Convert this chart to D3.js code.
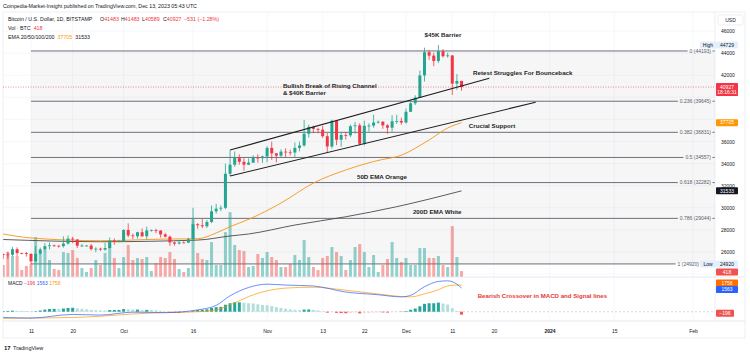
<!DOCTYPE html>
<html>
<head>
<meta charset="utf-8">
<script src="https://cdn.jsdelivr.net/npm/d3@7"></script>
<style>
  body { margin: 0; background: #fff; }
  svg { display: block; font-family: "Liberation Sans", Arial, sans-serif; }
</style>
</head>
<body>
<div id="chart"></div>
<script>
// ---- daily candles, BITSTAMP BTC/USD ----
const dates = [
  "2023-09-05","2023-09-06","2023-09-07","2023-09-08","2023-09-09","2023-09-10","2023-09-11","2023-09-12","2023-09-13","2023-09-14",
  "2023-09-15","2023-09-16","2023-09-17","2023-09-18","2023-09-19","2023-09-20","2023-09-21","2023-09-22","2023-09-23","2023-09-24",
  "2023-09-25","2023-09-26","2023-09-27","2023-09-28","2023-09-29","2023-09-30","2023-10-01","2023-10-02","2023-10-03","2023-10-04",
  "2023-10-05","2023-10-06","2023-10-07","2023-10-08","2023-10-09","2023-10-10","2023-10-11","2023-10-12","2023-10-13","2023-10-14",
  "2023-10-15","2023-10-16","2023-10-17","2023-10-18","2023-10-19","2023-10-20","2023-10-21","2023-10-22","2023-10-23","2023-10-24",
  "2023-10-25","2023-10-26","2023-10-27","2023-10-28","2023-10-29","2023-10-30","2023-10-31","2023-11-01","2023-11-02","2023-11-03",
  "2023-11-04","2023-11-05","2023-11-06","2023-11-07","2023-11-08","2023-11-09","2023-11-10","2023-11-11","2023-11-12","2023-11-13",
  "2023-11-14","2023-11-15","2023-11-16","2023-11-17","2023-11-18","2023-11-19","2023-11-20","2023-11-21","2023-11-22","2023-11-23",
  "2023-11-24","2023-11-25","2023-11-26","2023-11-27","2023-11-28","2023-11-29","2023-11-30","2023-12-01","2023-12-02","2023-12-03",
  "2023-12-04","2023-12-05","2023-12-06","2023-12-07","2023-12-08","2023-12-09","2023-12-10","2023-12-11","2023-12-12","2023-12-13"
];
const opens = [
  25820,25780,25750,26250,25900,25890,25830,25160,25840,26230,
  26530,26600,26570,26530,26760,27210,27130,26570,26580,26580,
  26260,26300,26220,26360,27030,26910,26970,27990,27500,27430,
  27790,27420,27950,27970,27940,27590,27390,26870,26760,26860,
  26850,27160,28510,28420,28330,28720,29680,29920,30000,33080,
  33900,34500,34160,33900,34090,34540,34490,34650,35420,34930,
  34720,35080,35020,35000,35420,35640,36700,37320,37140,37070,
  36480,35550,37870,36160,36590,36560,37380,37460,35800,37420,
  37440,37720,37790,37460,37250,37830,37860,37720,38690,39460,
  39970,41980,44080,43770,43290,44170,43720,43790,41240,41483
];
const highs = [
  25860,26030,26440,26420,25940,26000,25880,26540,26400,26800,
  26860,26670,26620,27410,27490,27380,27150,26720,26640,26740,
  26430,26390,26830,27310,27230,27090,28060,28590,27670,27830,
  28130,28290,28030,28100,27990,27730,27480,26940,27100,26970,
  27290,30000,28610,28980,28900,30210,30350,30220,34000,35200,
  35100,34840,34490,34470,34750,34850,34720,35570,35980,34950,
  35290,35380,35270,35900,35990,37940,37510,37430,37240,37420,
  36760,37970,37930,36840,36850,37530,37760,37650,37880,37640,
  38420,37900,37830,37580,38380,38420,38160,38990,39690,40180,
  42420,44490,44290,44040,44729,44370,44040,43800,42100,41483
];
const lows = [
  25380,25370,25620,25650,25800,25580,24920,25130,25770,26130,
  26230,26480,26400,26390,26670,26800,26360,26480,26500,26130,
  25990,26100,26110,26340,26660,26890,26950,27330,27160,27220,
  27380,27170,27850,27700,27300,27320,26550,26570,26690,26800,
  26810,27120,28100,28150,28180,28610,29470,29700,29880,32880,
  33700,33900,33350,33870,34050,34080,34070,34130,34340,34110,
  34560,34580,34740,34520,35110,35540,36360,36750,36740,36330,
  34980,35370,35680,35530,36180,36400,36720,35640,35640,36900,
  37250,37620,37140,36700,36880,37590,37520,37620,38660,39300,
  39970,41420,43390,42820,43100,43590,43590,40220,40680,40589
];
const closes = [
  25780,25750,26250,25900,25890,25830,25160,25840,26230,26530,
  26600,26570,26530,26760,27210,27130,26570,26580,26580,26260,
  26300,26220,26360,27030,26910,26970,27990,27500,27430,27790,
  27420,27950,27970,27940,27590,27390,26870,26760,26860,26850,
  27160,28510,28420,28330,28720,29680,29920,30000,33080,33900,
  34500,34160,33900,34090,34540,34490,34650,35420,34930,34720,
  35080,35020,35000,35420,35640,36700,37320,37140,37070,36480,
  35550,37870,36160,36590,36560,37380,37460,35800,37420,37440,
  37720,37790,37460,37250,37830,37860,37720,38690,39460,39970,
  41980,44080,43770,43290,44170,43720,43790,41240,41480,40927
];
const volumes = [
  840,1750,1470,1470,490,770,910,2800,1610,1890,
  1190,560,490,1750,1680,1890,1330,630,350,630,
  1190,840,1680,2310,1330,630,1400,2240,1190,1330,
  1260,1400,420,980,1400,1330,1750,1260,560,350,
  630,4060,1680,1260,1190,2450,840,840,3150,4550,
  2240,1890,1820,700,770,1610,1330,1750,1400,1190,
  700,700,910,1540,1190,2590,1400,700,490,1330,
  1470,2100,1750,1470,490,1190,2100,2310,1750,700,
  1540,350,840,1260,2450,1330,1050,1330,840,840,
  2030,2030,1330,1330,1470,840,700,3570,1400,418
];
const macdHist = [
  40,50,70,60,55,50,-10,30,80,140,
  180,190,185,210,250,260,220,190,160,120,
  100,80,75,110,115,115,170,160,140,140,
  110,120,110,95,60,20,-40,-70,-75,-70,
  -45,60,110,130,160,250,300,320,460,560,
  620,620,590,560,540,490,450,430,370,300,
  250,200,150,120,100,140,150,120,80,20,
  -60,-20,-70,-90,-100,-70,-50,-110,-80,-75,
  -50,-40,-45,-55,-30,-20,-20,40,130,210,
  360,520,560,560,600,540,470,230,60,-196
];

// ---- indicator lines, read as points off the picture ----
const ema50Dates = ["2023-09-05","2023-09-11","2023-09-26","2023-10-10","2023-10-17","2023-10-21","2023-10-24","2023-10-28","2023-11-04","2023-11-11","2023-11-18","2023-11-26","2023-11-29","2023-12-06","2023-12-10","2023-12-13"];
const ema50 = [27630,27270,27020,27170,27200,27720,28290,28950,30430,32240,33420,34380,34620,36140,37220,37705];
const ema200Dates = ["2023-09-05","2023-09-26","2023-10-17","2023-10-24","2023-10-28","2023-11-07","2023-11-18","2023-11-29","2023-12-13"];
const ema200 = [27130,26930,27080,27450,27630,28440,29190,30100,31533];

const macdDates = ["2023-09-05","2023-09-11","2023-09-20","2023-09-26","2023-10-03","2023-10-10","2023-10-17","2023-10-21","2023-10-24","2023-10-28","2023-11-01","2023-11-05","2023-11-11","2023-11-18","2023-11-25","2023-11-30","2023-12-02","2023-12-05","2023-12-08","2023-12-10","2023-12-12","2023-12-13"];
const macdLine = [-380,-420,-180,-220,-30,-60,120,420,1050,1600,1820,1760,1700,1300,1120,980,1080,1650,2000,2040,1820,1563];
const signalLine = [-440,-420,-380,-300,-150,-60,0,120,450,1000,1380,1560,1620,1420,1170,1000,980,1180,1450,1700,1760,1758];

// ---- drawings ----
const fibRatios = ["0","0.236","0.382","0.5","0.618","0.786","1"];
const fibPrices = [44193,39645,36831,34557,32282,29044,24920];
const fibStart = "2023-09-11";
const channelUpper = [["2023-10-24",35230],["2023-12-19",41720]];
const channelLower = [["2023-10-24",32880],["2023-12-29",39550]];

// ---- axes ----
const gridPrices = [46000,44000,42000,40000,38000,36000,34000,32000,30000,28000,26000,24000];
const priceTicks = [46000,44000,42000,36000,34000,32000,30000,28000,26000];
const timeTicks = ["2023-09-11","2023-09-20","2023-10-01","2023-10-16","2023-11-01","2023-11-13","2023-11-22","2023-12-01","2023-12-11","2023-12-20","2024-01-01","2024-01-15","2024-02-01"];
const timeLabels = ["11","20","Oct","16","Nov","13","22","Dec","11","20","2024","15","Feb"];

const notes = [
  { text: "$45K Barrier", date: "2023-12-09T00:00", price: 45640, anchor: "middle" },
  { text: "Retest Struggles For Bounceback", date: "2023-12-15T12:00", price: 42200, anchor: "start" },
  { text: "Bullish Break of Rising Channel", date: "2023-11-04T10:00", price: 41020, anchor: "start" },
  { text: "& $40K Barrier", date: "2023-11-04T10:00", price: 40390, anchor: "start" },
  { text: "Crucial Support", date: "2023-12-14T14:00", price: 37430, anchor: "start" },
  { text: "50D EMA Orange", date: "2023-11-20T10:00", price: 32810, anchor: "start" },
  { text: "200D EMA White", date: "2023-12-02T12:00", price: 29620, anchor: "start" }
];

const UP = "#22a68f", DOWN = "#f23645";
const W = 750, H = 354;
const paneLeft = 3, paneRight = 715, mainTop = 12, mainBottom = 277, macdBottom = 321;

const parse = d3.isoParse;
const x = d3.scaleTime().domain([parse("2023-09-11"), parse("2024-02-01")]).range([31, 693]);
const y = d3.scaleLinear().domain([26000, 46000]).range([252, 31]);
const yVol = d3.scaleLinear().domain([0, 4000]).range([mainBottom, 220]);
const yMacd = d3.scaleLinear().domain([-600, 2300]).range([320.8, 276.9]);

const candles = dates.map((d, i) => ({
  date: parse(d), o: opens[i], h: highs[i], l: lows[i], c: closes[i], v: volumes[i], hist: macdHist[i]
}));

const svg = d3.select("#chart").append("svg")
  .attr("width", W).attr("height", H)
  .attr("viewBox", `0 0 ${W} ${H}`);

svg.append("rect").attr("width", W).attr("height", H).attr("fill", "#fff");

const defs = svg.append("defs");
defs.append("clipPath").attr("id", "mainClip").append("rect")
  .attr("x", paneLeft).attr("y", mainTop).attr("width", paneRight - paneLeft).attr("height", mainBottom - mainTop);
defs.append("clipPath").attr("id", "macdClip").append("rect")
  .attr("x", paneLeft).attr("y", mainBottom).attr("width", paneRight - paneLeft).attr("height", macdBottom - mainBottom);

// frame
svg.append("rect")
  .attr("x", paneLeft).attr("y", mainTop).attr("width", 742).attr("height", 338 - mainTop)
  .attr("fill", "none").attr("stroke", "#e0e3eb").attr("stroke-width", 0.6);

// gridlines
const grid = svg.append("g").attr("class", "grid");
grid.selectAll(".vgrid").data(timeTicks).enter().append("line")
  .attr("x1", d => x(parse(d))).attr("x2", d => x(parse(d)))
  .attr("y1", mainTop).attr("y2", macdBottom)
  .attr("stroke", "#f0f3fa").attr("stroke-width", 0.7);
grid.selectAll(".hgrid").data(gridPrices).enter().append("line")
  .attr("x1", paneLeft).attr("x2", paneRight)
  .attr("y1", d => y(d)).attr("y2", d => y(d))
  .attr("stroke", "#f0f3fa").attr("stroke-width", 0.7);

const main = svg.append("g").attr("clip-path", "url(#mainClip)");

// fib retracement zone
main.append("rect")
  .attr("x", x(parse(fibStart))).attr("y", y(fibPrices[0]))
  .attr("width", paneRight - x(parse(fibStart)))
  .attr("height", y(fibPrices[fibPrices.length - 1]) - y(fibPrices[0]))
  .attr("fill", "#000").attr("fill-opacity", 0.035);

// fib labels first, so each line can stop just before its label
const fibLabels = svg.selectAll(".fibLabel").data(fibPrices).enter().append("text")
  .attr("class", "fibLabel")
  .attr("x", (d, i) => i === fibPrices.length - 1 ? 699 : 711)
  .attr("y", d => y(d) + 1.8)
  .attr("text-anchor", "end").attr("font-size", 5).attr("fill", "#5d606b")
  .text((d, i) => `${fibRatios[i]} (${d})`);
const labelStart = [];
fibLabels.each(function (d, i) {
  labelStart[i] = (i === fibPrices.length - 1 ? 699 : 711) - this.getComputedTextLength();
});
main.selectAll(".fib").data(fibPrices).enter().append("line")
  .attr("x1", x(parse(fibStart))).attr("x2", (d, i) => labelStart[i] - 2)
  .attr("y1", d => y(d)).attr("y2", d => y(d))
  .attr("stroke", "#5d606b").attr("stroke-width", 0.9);
main.selectAll(".fibtail").data(fibPrices.slice(0, -1)).enter().append("line")
  .attr("x1", 712.5).attr("x2", 715)
  .attr("y1", d => y(d)).attr("y2", d => y(d))
  .attr("stroke", "#5d606b").attr("stroke-width", 0.9);

// volume
const bw = 3;
main.selectAll(".vol").data(candles).enter().append("rect")
  .attr("x", d => x(d.date) - bw / 2).attr("width", bw)
  .attr("y", d => yVol(d.v)).attr("height", d => yVol(0) - yVol(d.v))
  .attr("fill", d => d.c >= d.o ? "#26a69a" : "#ef5350").attr("fill-opacity", 0.5);

// EMAs
const lineGen = d3.line().x(d => x(d[0])).y(d => y(d[1])).curve(d3.curveMonotoneX);
main.append("path")
  .datum(ema200Dates.map((d, i) => [parse(d), ema200[i]]))
  .attr("d", lineGen).attr("fill", "none").attr("stroke", "#4a4a4a").attr("stroke-width", 0.9);
main.append("path")
  .datum(ema50Dates.map((d, i) => [parse(d), ema50[i]]))
  .attr("d", lineGen).attr("fill", "none").attr("stroke", "#f7931a").attr("stroke-width", 0.9);

// candles
const cg = main.selectAll(".candle").data(candles).enter().append("g");
cg.append("line")
  .attr("x1", d => x(d.date)).attr("x2", d => x(d.date))
  .attr("y1", d => y(d.h)).attr("y2", d => y(d.l))
  .attr("stroke", d => d.c >= d.o ? UP : DOWN).attr("stroke-width", 0.8);
cg.append("rect")
  .attr("x", d => x(d.date) - bw / 2).attr("width", bw)
  .attr("y", d => y(Math.max(d.o, d.c)))
  .attr("height", d => Math.max(0.8, Math.abs(y(d.o) - y(d.c))))
  .attr("fill", d => d.c >= d.o ? UP : DOWN);

// channel
[channelUpper, channelLower].forEach(seg => {
  main.append("line")
    .attr("x1", x(parse(seg[0][0]))).attr("y1", y(seg[0][1]))
    .attr("x2", x(parse(seg[1][0]))).attr("y2", y(seg[1][1]))
    .attr("stroke", "#1e1e1e").attr("stroke-width", 1.1);
});

// current price line
const last = candles[candles.length - 1];
main.append("line")
  .attr("x1", paneLeft).attr("x2", paneRight)
  .attr("y1", y(last.c)).attr("y2", y(last.c))
  .attr("stroke", DOWN).attr("stroke-width", 0.6).attr("stroke-dasharray", "1,1.5");

// annotations
svg.selectAll(".note").data(notes).enter().append("text")
  .attr("x", d => x(parse(d.date))).attr("y", d => y(d.price) + 2.1)
  .attr("text-anchor", d => d.anchor)
  .attr("font-size", 6.2).attr("font-weight", "bold").attr("fill", "#1e1e1e")
  .text(d => d.text);

// pane separator
svg.append("line").attr("x1", paneLeft).attr("x2", 745)
  .attr("y1", mainBottom).attr("y2", mainBottom).attr("stroke", "#e0e3eb").attr("stroke-width", 0.8);

// MACD pane
const macdG = svg.append("g").attr("clip-path", "url(#macdClip)");
macdG.append("line").attr("x1", paneLeft).attr("x2", paneRight)
  .attr("y1", yMacd(0)).attr("y2", yMacd(0))
  .attr("stroke", "#b2b5be").attr("stroke-width", 0.5).attr("stroke-dasharray", "2,2");
macdG.selectAll(".hist").data(candles).enter().append("rect")
  .attr("x", d => x(d.date) - bw / 2).attr("width", bw)
  .attr("y", d => yMacd(Math.max(0, d.hist)))
  .attr("height", d => Math.abs(yMacd(d.hist) - yMacd(0)))
  .attr("fill", (d, i) => {
    const prev = i > 0 ? candles[i - 1].hist : d.hist;
    if (d.hist >= 0) return d.hist >= prev ? "#26a69a" : "#b2dfdb";
    return d.hist <= prev ? "#ff5252" : "#ffcdd2";
  });
const macdGen = d3.line().x(d => x(d[0])).y(d => yMacd(d[1])).curve(d3.curveMonotoneX);
macdG.append("path").datum(macdDates.map((d, i) => [parse(d), signalLine[i]]))
  .attr("d", macdGen).attr("fill", "none").attr("stroke", "#ff9800").attr("stroke-width", 0.7);
macdG.append("path").datum(macdDates.map((d, i) => [parse(d), macdLine[i]]))
  .attr("d", macdGen).attr("fill", "none").attr("stroke", "#2962ff").attr("stroke-width", 0.7);

svg.append("text").attr("x", x(parse("2023-12-16T12:00"))).attr("y", yMacd(1036) + 2.1)
  .attr("font-size", 6.1).attr("font-weight", "bold").attr("fill", "#e53935")
  .text("Bearish Crossover in MACD and Signal lines");

const macdLegend = svg.append("text").attr("x", 8).attr("y", 285).attr("font-size", 5);
macdLegend.append("tspan").attr("fill", "#131722").text("MACD ");
macdLegend.append("tspan").attr("fill", "#f23645").text("−196 ");
macdLegend.append("tspan").attr("fill", "#2962ff").text("1563 ");
macdLegend.append("tspan").attr("fill", "#ff9800").text("1758");

// time axis
svg.append("line").attr("x1", paneLeft).attr("x2", 745)
  .attr("y1", macdBottom).attr("y2", macdBottom).attr("stroke", "#e0e3eb").attr("stroke-width", 0.8);
const xAxis = svg.append("g").attr("transform", `translate(0,${macdBottom})`)
  .call(d3.axisBottom(x).tickValues(timeTicks.map(parse)).tickSize(0).tickPadding(8)
    .tickFormat((d, i) => timeLabels[i]));
xAxis.select(".domain").remove();
xAxis.selectAll("text").attr("font-size", 5).attr("fill", "#131722")
  .attr("font-family", "Liberation Sans, Arial, sans-serif")
  .attr("font-weight", (d, i) => timeLabels[i] === "2024" ? "bold" : "normal");

// price axis
svg.append("line").attr("x1", paneRight).attr("x2", paneRight)
  .attr("y1", mainTop).attr("y2", macdBottom).attr("stroke", "#e0e3eb").attr("stroke-width", 0.6);
const yAxis = svg.append("g").attr("transform", `translate(${paneRight},0)`)
  .call(d3.axisRight(y).tickValues(priceTicks).tickSize(0).tickPadding(6).tickFormat(d3.format("d")));
yAxis.select(".domain").remove();
yAxis.selectAll("text").attr("font-size", 5).attr("fill", "#131722")
  .attr("font-family", "Liberation Sans, Arial, sans-serif");

// axis label boxes
function tag(yPos, label, bg, fg, x0 = 716, w = 22, h = 7) {
  svg.append("rect").attr("x", x0).attr("y", yPos - h / 2).attr("width", w).attr("height", h)
    .attr("fill", bg).attr("rx", 0.8);
  svg.append("text").attr("x", x0 + w / 2).attr("y", yPos + 1.8).attr("text-anchor", "middle")
    .attr("font-size", 5).attr("fill", fg).text(label);
}
svg.append("rect").attr("x", 718).attr("y", 15).attr("width", 25).attr("height", 10)
  .attr("fill", "#fff").attr("stroke", "#e0e3eb").attr("stroke-width", 0.6).attr("rx", 1.5);
svg.append("text").attr("x", 730.5).attr("y", 21.8).attr("text-anchor", "middle")
  .attr("font-size", 5).attr("fill", "#131722").text("USD");

tag(y(d3.max(highs)), "High", "#e3effd", "#131722", 700, 16);
tag(y(d3.max(highs)), d3.max(highs), "#e3effd", "#131722");
tag(y(d3.min(lows)), "Low", "#e3effd", "#131722", 700, 16);
tag(y(d3.min(lows)), d3.min(lows), "#e3effd", "#131722");
// last price with countdown
svg.append("rect").attr("x", 716).attr("y", y(last.c) - 4).attr("width", 22).attr("height", 13)
  .attr("fill", DOWN).attr("rx", 0.8);
svg.append("text").attr("x", 727).attr("y", y(last.c) + 1.8).attr("text-anchor", "middle")
  .attr("font-size", 5).attr("fill", "#fff").text(last.c);
svg.append("text").attr("x", 727).attr("y", y(last.c) + 7.3).attr("text-anchor", "middle")
  .attr("font-size", 5).attr("fill", "#fff").text("18:16:31");
tag(y(ema50[ema50.length - 1]), ema50[ema50.length - 1], "#ff9800", "#fff");
tag(y(ema200[ema200.length - 1]), ema200[ema200.length - 1], "#131722", "#fff");
tag(yVol(last.v) + 1, last.v, "#ef5350", "#fff");
tag(yMacd(signalLine[signalLine.length - 1]) - 2, signalLine[signalLine.length - 1], "#ff6d00", "#fff");
tag(yMacd(macdLine[macdLine.length - 1]) + 1.5, macdLine[macdLine.length - 1], "#2962ff", "#fff");
tag(yMacd(0) + 1.5, "−196", "#ef5350", "#fff", 716, 18);

// header + legend
svg.append("text").attr("x", 3).attr("y", 7.5).attr("font-size", 5.3).attr("fill", "#131722")
  .text("Coinpedia-Market-Insight published on TradingView.com, Dec 13, 2023 05:43 UTC");

const l1 = svg.append("text").attr("x", 8).attr("y", 21).attr("font-size", 5.3).attr("fill", "#131722");
l1.append("tspan").text("Bitcoin / U.S. Dollar, 1D, BITSTAMP");
[["O", last.o], ["H", last.h], ["L", last.l], ["C", last.c]].forEach((p, i) => {
  l1.append("tspan").attr("x", 100 + i * 21).text(p[0]);
  l1.append("tspan").attr("fill", DOWN).text(p[1]);
});
l1.append("tspan").attr("x", 184).attr("fill", DOWN).text("−531 (−1.28%)");

const l2 = svg.append("text").attr("x", 8).attr("y", 30).attr("font-size", 5.3).attr("fill", "#131722");
l2.append("tspan").text("Vol · BTC");
l2.append("tspan").attr("dx", 3).attr("fill", DOWN).text(last.v);

const l3 = svg.append("text").attr("x", 8).attr("y", 39).attr("font-size", 5.3).attr("fill", "#131722");
l3.append("tspan").text("EMA 20/50/100/200");
l3.append("tspan").attr("dx", 3).attr("fill", "#ff9800").text(ema50[ema50.length - 1]);
l3.append("tspan").attr("dx", 3).attr("fill", "#131722").text(ema200[ema200.length - 1]);

// TradingView footer
svg.append("text").attr("x", 4).attr("y", 350).attr("font-size", 6).attr("font-weight", "bold")
  .attr("fill", "#131722").text("17");
svg.append("text").attr("x", 13).attr("y", 350).attr("font-size", 5.5)
  .attr("fill", "#131722").text("TradingView");
</script>
</body>
</html>
